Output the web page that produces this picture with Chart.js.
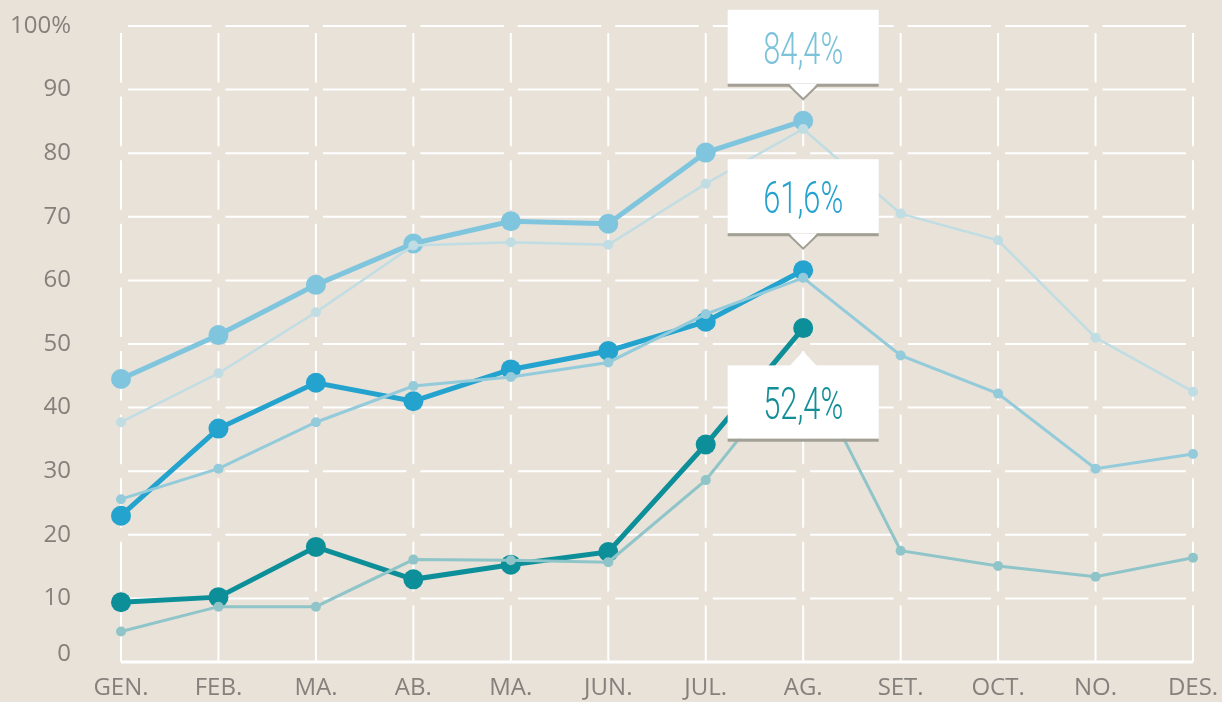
<!DOCTYPE html>
<html>
<head>
<meta charset="utf-8">
<script src="https://cdn.jsdelivr.net/npm/chart.js@4/dist/chart.umd.min.js"></script>
<style>
  html, body { margin: 0; padding: 0; background: #E8E2D9; }
</style>
</head>
<body>
<canvas id="c" width="1222" height="702"></canvas>
<script>
// ---- data ----
const months = ['GEN.', 'FEB.', 'MA.', 'AB.', 'MA.', 'JUN.', 'JUL.', 'AG.', 'SET.', 'OCT.', 'NO.', 'DES.'];
const yTickLabels = ['0', '10', '20', '30', '40', '50', '60', '70', '80', '90', '100%'];

// previous-year series (thin lines, full year)
const prevLight = [37.7, 45.4, 55.0, 65.5, 66.0, 65.6, 75.2, 83.8, 70.5, 66.3, 51.0, 42.5];
const prevBlue  = [25.6, 30.4, 37.7, 43.4, 44.8, 47.1, 54.7, 60.4, 48.2, 42.2, 30.4, 32.7];
const prevTeal  = [4.8, 8.7, 8.7, 16.1, 16.0, 15.7, 28.6, 47.7, 17.5, 15.1, 13.4, 16.4];

// current-year series (thick lines, Jan-Aug)
const curLight = [44.5, 51.4, 59.3, 65.8, 69.3, 68.9, 80.1, 85.1];
const curBlue  = [23.0, 36.7, 43.9, 41.0, 46.0, 48.9, 53.5, 61.6];
const curTeal  = [9.4, 10.2, 18.1, 13.0, 15.3, 17.3, 34.2, 52.5];

const calloutLabels = ['84,4%', '61,6%', '52,4%'];

// ---- plugins ----
const bgPlugin = {
  id: 'bg',
  beforeDraw(chart) {
    const ctx = chart.ctx;
    ctx.save();
    ctx.fillStyle = '#E8E2D9';
    ctx.fillRect(0, 0, chart.width, chart.height);
    ctx.restore();
  }
};

const gapGridPlugin = {
  id: 'gapGrid',
  beforeDatasetsDraw(chart) {
    const { ctx, scales: { x, y } } = chart;
    const gap = 7;
    const xs = x.ticks.map((t, i) => x.getPixelForTick(i));
    const ys = y.ticks.map((t, i) => y.getPixelForTick(i));
    ctx.save();
    ctx.strokeStyle = '#FFFFFF';
    ctx.lineWidth = 2;
    ctx.beginPath();
    for (let j = 1; j < ys.length; j++) {
      for (let i = 0; i < xs.length - 1; i++) {
        ctx.moveTo(xs[i] + gap, ys[j]);
        ctx.lineTo(xs[i + 1] - gap, ys[j]);
      }
    }
    for (let i = 0; i < xs.length; i++) {
      for (let j = 0; j < ys.length - 1; j++) {
        const yb = j === 0 ? ys[0] : ys[j] - gap;
        ctx.moveTo(xs[i], yb);
        ctx.lineTo(xs[i], ys[j + 1] + gap);
      }
    }
    ctx.stroke();
    ctx.lineWidth = 3;
    ctx.beginPath();
    ctx.moveTo(xs[0], ys[0]);
    ctx.lineTo(xs[xs.length - 1], ys[0]);
    ctx.stroke();
    ctx.restore();
  }
};

const callouts = [
  { ds: 3, idx: 7, text: calloutLabels[0], color: '#7CC2D8', dir: 'above' },
  { ds: 4, idx: 7, text: calloutLabels[1], color: '#27A2CF', dir: 'above' },
  { ds: 5, idx: 7, text: calloutLabels[2], color: '#138E96', dir: 'below' }
];

const calloutPlugin = {
  id: 'callouts',
  afterDatasetsDraw(chart) {
    const ctx = chart.ctx;
    const W = 151, H = 74, half = 14, border = 3;
    callouts.forEach(c => {
      const p = chart.getDatasetMeta(c.ds).data[c.idx];
      const cx = p.x, py = p.y;
      let top, tip, base;
      ctx.save();
      if (c.dir === 'above') {
        tip = py - 21.5;
        base = tip - 15.5;
        top = base - H;
        ctx.fillStyle = '#FFFFFF';
        ctx.fillRect(cx - W / 2, top, W, H);
        ctx.fillStyle = '#A29F94';
        ctx.fillRect(cx - W / 2, base, W, border);
        ctx.fillStyle = '#FFFFFF';
        ctx.beginPath();
        ctx.moveTo(cx - half, base);
        ctx.lineTo(cx, tip);
        ctx.lineTo(cx + half, base);
        ctx.closePath();
        ctx.fill();
        ctx.strokeStyle = '#A29F94';
        ctx.lineWidth = 2;
        ctx.beginPath();
        ctx.moveTo(cx - half - 1, base + 1);
        ctx.lineTo(cx, tip);
        ctx.lineTo(cx + half + 1, base + 1);
        ctx.stroke();
      } else {
        tip = py + 23;
        base = tip + 14.3;
        top = base;
        ctx.fillStyle = '#FFFFFF';
        ctx.beginPath();
        ctx.moveTo(cx - half, base + 1);
        ctx.lineTo(cx, tip);
        ctx.lineTo(cx + half, base + 1);
        ctx.closePath();
        ctx.fill();
        ctx.fillRect(cx - W / 2, top, W, H - 0.7);
        ctx.fillStyle = '#A29F94';
        ctx.fillRect(cx - W / 2, top + H - 0.7, W, border);
      }
      ctx.fillStyle = c.color;
      ctx.font = '300 44px Roboto';
      ctx.textAlign = 'center';
      ctx.textBaseline = 'alphabetic';
      ctx.translate(cx, top + 54);
      ctx.scale(0.7, 1);
      ctx.fillText(c.text, 0, 0);
      ctx.restore();
    });
  }
};

// ---- chart ----
const thin = (data, color, w) => ({
  data, borderColor: color, backgroundColor: color, borderWidth: w,
  pointRadius: 5, pointHoverRadius: 5, pointBorderWidth: 0, tension: 0, clip: false
});
const thick = (data, color) => ({
  data, borderColor: color, backgroundColor: color, borderWidth: 5,
  pointRadius: 10, pointHoverRadius: 10, pointBorderWidth: 0, tension: 0, clip: false
});

new Chart(document.getElementById('c'), {
  type: 'line',
  data: {
    labels: months,
    datasets: [
      thin(prevLight, '#C0DDE3', 2.5),
      thin(prevBlue, '#94CBDB', 3),
      thin(prevTeal, '#8FC5C8', 3),
      thick(curLight, '#80C5DE'),
      thick(curBlue, '#24A3CF'),
      thick(curTeal, '#0C8F98')
    ]
  },
  options: {
    responsive: false,
    animation: false,
    events: [],
    layout: { padding: { top: 26, right: 29, left: 0, bottom: 0 } },
    plugins: { legend: { display: false }, tooltip: { enabled: false } },
    scales: {
      x: {
        grid: { display: false, drawTicks: true, tickLength: 12 },
        border: { display: false },
        ticks: {
          color: '#85807B', font: { family: 'Open Sans', size: 24 },
          padding: 0, maxRotation: 0, autoSkip: false
        },
        afterFit(s) { s.height = 40; }
      },
      y: {
        min: 0, max: 100,
        grid: { display: false, drawTicks: true, tickLength: 50 },
        border: { display: false },
        ticks: {
          stepSize: 10, color: '#85807B',
          font: (c) => ({ family: 'Open Sans', size: 24, lineHeight: c.index === 0 ? 0.67 : 1.2 }),
          padding: 0,
          callback: (v, i) => (i === 0 ? [yTickLabels[i], ''] : yTickLabels[i])
        },
        afterFit(s) { s.width = 121; }
      }
    }
  },
  plugins: [bgPlugin, gapGridPlugin, calloutPlugin]
});
</script>
</body>
</html>
